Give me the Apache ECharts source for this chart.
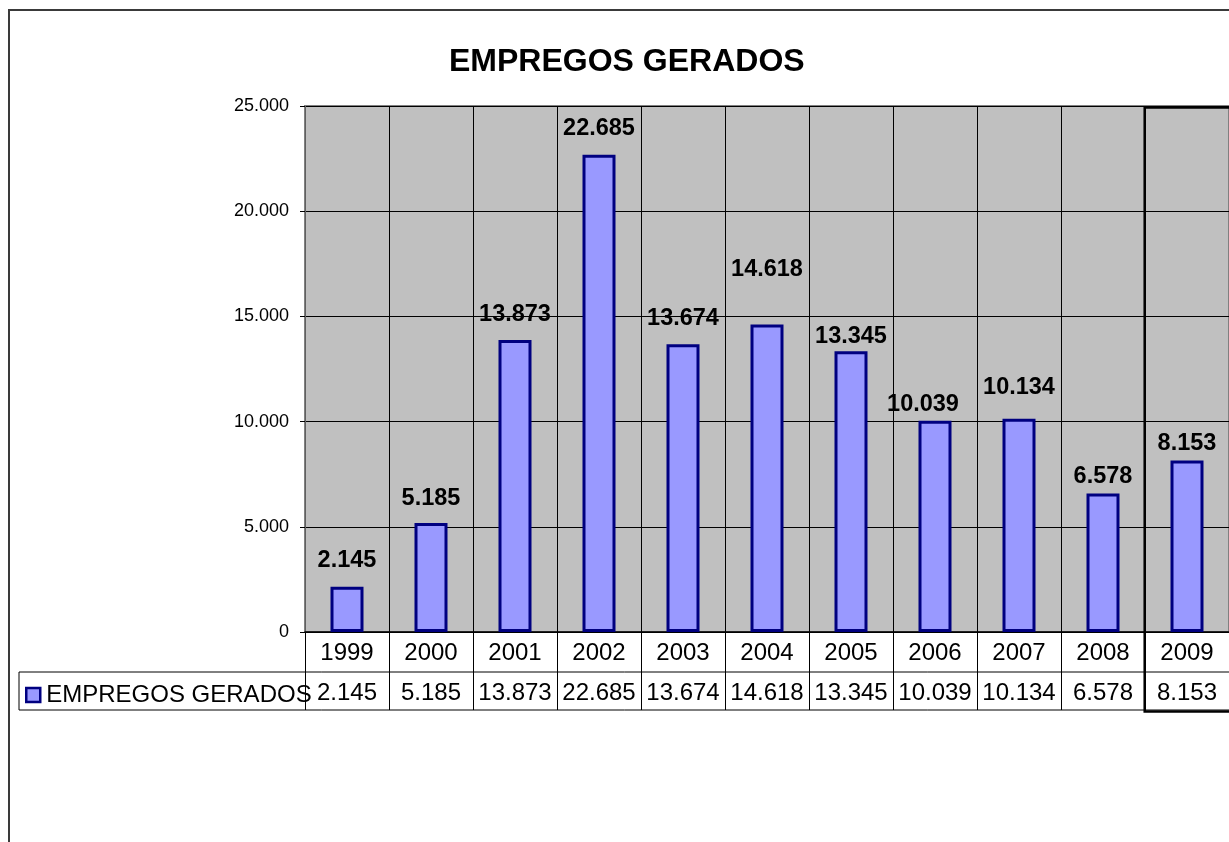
<!DOCTYPE html>
<html>
<head>
<meta charset="utf-8">
<script src="https://cdn.jsdelivr.net/npm/echarts@6/dist/echarts.min.js"></script>
<style>
html,body{margin:0;padding:0;background:#fff;}
#chart{width:1229px;height:842px;}
</style>
</head>
<body>
<div id="chart"></div>
<script>
// ---- data ----
const years = ['1999','2000','2001','2002','2003','2004','2005','2006','2007','2008','2009'];
const empregos = [2145, 5185, 13873, 22685, 13674, 14618, 13345, 10039, 10134, 6578, 8153];
const seriesName = 'EMPREGOS GERADOS';
const chartTitle = 'EMPREGOS GERADOS';
const yMax = 25000;
const yInterval = 5000;

function fmt(v) { return String(v).replace(/\B(?=(\d{3})+(?!\d))/g, '.'); }

// ---- style / layout ----
const FONT = 'Arial, "Liberation Sans", sans-serif';
const G = { left: 305, top: 106, height: 526, catW: 84.6 };
G.width = G.catW * years.length;
const zeroY = G.top + G.height;
const row1 = zeroY + 40;
const row2 = zeroY + 78;
// hand-placed data label nudges in the original (by category index): [dx, dy]
const labelNudge = {
  1: [0, 1.5], 5: [0, -29], 6: [0, 11.6], 7: [-12, 9.3], 8: [0, -5.7], 9: [0, 9.3], 10: [0, 9.3]
};

const chart = echarts.init(document.getElementById('chart'), null, { renderer: 'canvas' });
const option = {
  backgroundColor: '#ffffff',
  animation: false,
  title: {
    text: chartTitle,
    left: 449, top: 46, padding: 0,
    textStyle: { fontFamily: FONT, fontSize: 32, fontWeight: 'bold', color: '#000', lineHeight: 32 }
  },
  legend: {
    data: [seriesName],
    left: 25, top: 683, padding: 0,
    icon: 'rect', itemWidth: 14, itemHeight: 14, itemGap: 0,
    textStyle: { fontFamily: FONT, fontSize: 24, color: '#000', padding: [0, 0, 0, 1] },
    itemStyle: { color: '#9999FF', borderColor: '#000080', borderWidth: 2.5 }
  },
  grid: {
    left: G.left, top: G.top, width: G.width, height: G.height,
    show: true, backgroundColor: '#C0C0C0', borderColor: '#808080', borderWidth: 2,
    containLabel: false
  },
  xAxis: [
    {
      type: 'category', data: years, position: 'bottom', boundaryGap: true,
      axisLine: { show: true, lineStyle: { color: '#000', width: 1.5 } },
      axisTick: { show: true, interval: 0, alignWithLabel: false, length: 78, lineStyle: { color: '#000', width: 1 } },
      axisLabel: { interval: 0, margin: 9, fontFamily: FONT, fontSize: 24, color: '#000', lineHeight: 24 },
      splitLine: { show: true, interval: 0, lineStyle: { color: '#000', width: 1 } }
    },
    {
      type: 'category', data: empregos.map(fmt), position: 'bottom', offset: 40, boundaryGap: true,
      axisLine: { show: false }, axisTick: { show: false }, splitLine: { show: false },
      axisLabel: { interval: 0, margin: 9, fontFamily: FONT, fontSize: 24, color: '#000', lineHeight: 24 }
    }
  ],
  yAxis: {
    type: 'value', min: 0, max: yMax, interval: yInterval,
    axisLine: { show: true, lineStyle: { color: '#808080', width: 1.5 } },
    axisTick: { show: true, length: 5, lineStyle: { color: '#000', width: 1 } },
    axisLabel: { margin: 16, fontFamily: FONT, fontSize: 18, color: '#000', formatter: v => fmt(v) },
    splitLine: { show: true, lineStyle: { color: '#000', width: 1 } }
  },
  series: [{
    name: seriesName, type: 'bar', xAxisIndex: 0,
    data: empregos.map((v, i) => labelNudge[i] ? { value: v, label: { offset: labelNudge[i] } } : v),
    barWidth: 33,
    itemStyle: { color: '#9999FF', borderColor: '#000080', borderWidth: 3 },
    label: {
      show: true, position: 'top', distance: 14,
      fontFamily: FONT, fontSize: 23.5, fontWeight: 'bold', color: '#000',
      formatter: p => fmt(p.value)
    }
  }]
};
chart.setOption(option);

const lastX = chart.convertToPixel({ xAxisIndex: 0 }, years[years.length - 1]) - G.catW / 2;
chart.setOption({
  graphic: [
    { type: 'rect', z: 100, silent: true, shape: { x: 9, y: 10, width: 1400, height: 1000 },
      style: { fill: 'none', stroke: '#3a3a3a', lineWidth: 2 } },
    { type: 'line', z: 100, silent: true, shape: { x1: 19, y1: row1, x2: 1300, y2: row1 },
      style: { stroke: '#000', lineWidth: 1 } },
    { type: 'line', z: 100, silent: true, shape: { x1: 19, y1: row2, x2: 1300, y2: row2 },
      style: { stroke: '#000', lineWidth: 1 } },
    { type: 'line', z: 100, silent: true, shape: { x1: 19, y1: row1, x2: 19, y2: row2 },
      style: { stroke: '#000', lineWidth: 1 } },
    { type: 'rect', z: 100, silent: true, shape: { x: lastX, y: G.top + 1.5, width: 200, height: row2 - G.top },
      style: { fill: 'none', stroke: '#000', lineWidth: 2.5 } }
  ]
});
</script>
</body>
</html>
